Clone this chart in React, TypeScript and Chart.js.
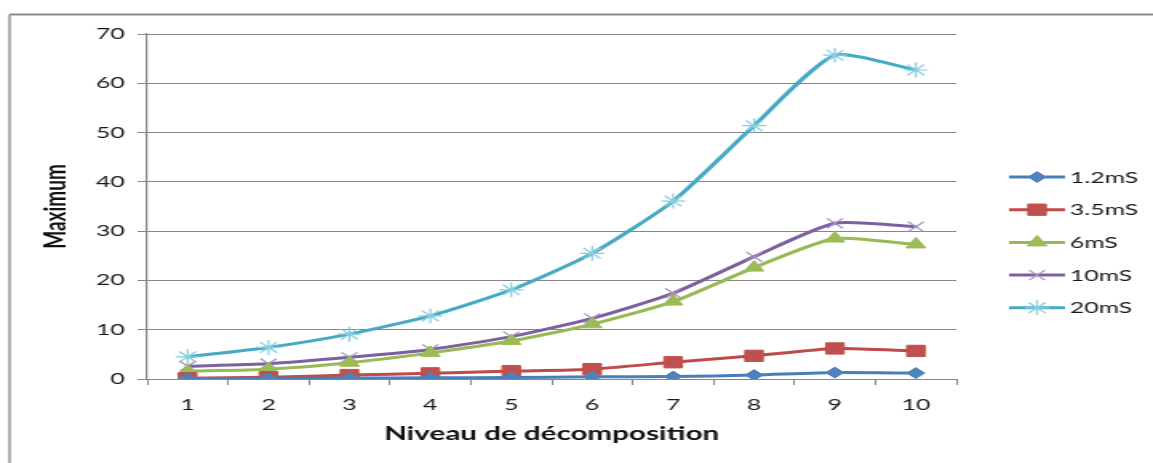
import React, { useEffect, useRef } from 'react';
import { Chart, registerables } from 'chart.js';
import { drawPoint } from 'chart.js/helpers';

Chart.register(...registerables);

const categories = ['1', '2', '3', '4', '5', '6', '7', '8', '9', '10'];
const seriesNames = ['1.2mS', '3.5mS', '6mS', '10mS', '20mS'];
const s1_2 = [0.1, 0.15, 0.2, 0.25, 0.3, 0.45, 0.5, 0.8, 1.3, 1.2];
const s3_5 = [0.15, 0.35, 0.8, 1.15, 1.6, 2.0, 3.4, 4.7, 6.2, 5.7];
const s6 = [1.6, 2.0, 3.3, 5.3, 7.7, 11.1, 15.7, 22.6, 28.5, 27.3];
const s10 = [2.6, 3.1, 4.4, 6.0, 8.6, 12.3, 17.4, 24.8, 31.6, 30.9];
const s20 = [4.5, 6.4, 9.1, 12.8, 18.1, 25.5, 36.1, 51.4, 65.7, 62.7];
const yMin = 0;
const yMax = 70;
const yStep = 10;
const xTitle = 'Niveau de décomposition';
const yTitle = 'Maximum';

const lineColors = ['#4A7EBB', '#BE4B48', '#98B954', '#7D60A0', '#46AAC5'];
const markerFill = ['#4F81BD', '#C0504D', '#9BBB59', 'rgba(0,0,0,0)', 'rgba(0,0,0,0)'];
const markerBorder = ['#4F81BD', '#C0504D', '#9BBB59', '#A592C4', '#86CDE0'];
const markerStyle = ['rectRot', 'rect', 'triangle', 'crossRot', 'star'];
const markerRadius = [5.5, 8, 7, 7, 7.5];
const markerBorderWidth = [1, 1, 1, 1.2, 1.2];

const W = 721;
const H = 463;
const DISPLAY_W = 1153;
const FONT = 'Lato, "Liberation Sans", sans-serif';

export default function App() {
  const ref = useRef<HTMLCanvasElement>(null);

  useEffect(() => {
    document.body.style.margin = '0';
    const canvas = ref.current;
    if (!canvas) return;
    const values = [s1_2, s3_5, s6, s10, s20];

    const framePlugin = {
      id: 'frame',
      beforeDraw(chart: any) {
        const ctx = chart.ctx;
        ctx.save();
        ctx.fillStyle = '#ffffff';
        ctx.fillRect(0, 0, chart.width, chart.height);
        ctx.strokeStyle = '#8C8C8C';
        ctx.lineWidth = 1.4;
        ctx.beginPath();
        ctx.moveTo(6, chart.height + 10);
        ctx.lineTo(6, 14.5);
        ctx.stroke();
        ctx.lineWidth = 2;
        ctx.beginPath();
        ctx.moveTo(6, 14.5);
        ctx.lineTo(chart.width + 10, 14.5);
        ctx.stroke();
        ctx.restore();
      },
    };

    const legendPlugin = {
      id: 'sideLegend',
      afterDraw(chart: any) {
        const ctx = chart.ctx;
        ctx.save();
        chart.data.datasets.forEach((ds: any, i: number) => {
          const y = 177 + i * 32.7;
          ctx.strokeStyle = ds.borderColor;
          ctx.lineWidth = 3;
          ctx.beginPath();
          ctx.moveTo(631, y);
          ctx.lineTo(666, y);
          ctx.stroke();
          ctx.fillStyle = ds.pointBackgroundColor;
          ctx.strokeStyle = ds.pointBorderColor;
          ctx.lineWidth = ds.pointBorderWidth;
          drawPoint(ctx, { pointStyle: ds.pointStyle, radius: ds.pointRadius, rotation: 0, borderWidth: ds.pointBorderWidth }, 648.5, y);
          ctx.fillStyle = '#1a1a1a';
          ctx.font = '15.5px ' + FONT;
          ctx.textBaseline = 'middle';
          ctx.textAlign = 'left';
          ctx.fillText(ds.label, 669, y + 0.5);
        });
        ctx.restore();
      },
    };

    const chart = new Chart(canvas, {
      type: 'line',
      data: {
        labels: categories,
        datasets: values.map((v, i) => ({
          label: seriesNames[i],
          data: v,
          borderColor: lineColors[i],
          borderWidth: 3,
          tension: 0.2,
          pointStyle: markerStyle[i] as any,
          pointRadius: markerRadius[i],
          pointBackgroundColor: markerFill[i],
          pointBorderColor: markerBorder[i],
          pointBorderWidth: markerBorderWidth[i],
          fill: false,
        })),
      },
      options: {
        responsive: false,
        animation: false,
        devicePixelRatio: 1,
        layout: { padding: { left: 0, top: 34, right: W - 598, bottom: 0 } },
        plugins: {
          legend: { display: false },
          tooltip: { enabled: false },
        },
        scales: {
          x: {
            offset: true,
            grid: {
              offset: true,
              drawOnChartArea: false,
              drawTicks: true,
              tickLength: 6,
              color: '#868686',
            },
            border: { color: '#868686', width: 1 },
            ticks: { color: '#1a1a1a', font: { family: FONT, size: 15.5 }, padding: 11 },
            title: {
              display: true,
              text: xTitle,
              color: '#111',
              font: { family: FONT, size: 18.5, weight: 'bold' },
              padding: { top: 0, bottom: 18 },
            },
            afterFit(scale: any) {
              scale.height = H - 379;
            },
          },
          y: {
            min: yMin,
            max: yMax,
            ticks: { stepSize: yStep, color: '#1a1a1a', font: { family: FONT, size: 15.5 }, padding: 8 },
            grid: { color: '#868686', tickLength: 6, lineWidth: 1 },
            border: { color: '#868686', width: 1.2 },
            title: {
              display: true,
              text: yTitle,
              color: '#111',
              font: { family: FONT, size: 19, weight: 'bold' },
              padding: { top: 23, bottom: 0 },
            },
            afterFit(scale: any) {
              scale.width = 92;
            },
          },
        },
      },
      plugins: [framePlugin, legendPlugin],
    });
    return () => chart.destroy();
  }, []);

  return (
    <div style={{ width: DISPLAY_W, height: H, overflow: 'hidden', background: '#fff' }}>
      <canvas
        ref={ref}
        width={W}
        height={H}
        style={{ width: DISPLAY_W + 'px', height: H + 'px', display: 'block' }}
      />
    </div>
  );
}
